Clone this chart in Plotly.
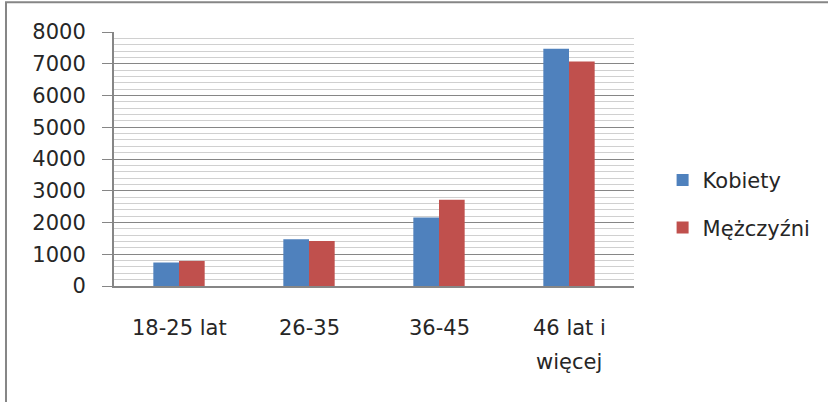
import plotly.graph_objects as go

# Age groups and counts per gender
categories = ["18-25 lat", "26-35", "36-45", "46 lat i<br>więcej"]
kobiety = [740, 1470, 2160, 7470]
mezczyzni = [790, 1420, 2720, 7070]
series_names = ["Kobiety", "Mężczyźni"]
y_ticks = [0, 1000, 2000, 3000, 4000, 5000, 6000, 7000, 8000]

FONT = "DejaVu Sans"
TEXT = "#262626"
AXIS_GRAY = "#868686"

fig = go.Figure()
fig.add_trace(go.Bar(x=categories, y=kobiety, name=series_names[0],
                     marker=dict(color="#4F81BD", line=dict(width=0)),
                     legendgroup="k"))
fig.add_trace(go.Bar(x=categories, y=mezczyzni, name=series_names[1],
                     marker=dict(color="#C0504D", line=dict(width=0)),
                     legendgroup="m"))

# Category labels written below the axis, one line per annotation
for cat in categories:
    for i, line in enumerate(cat.split("<br>")):
        fig.add_annotation(x=cat, xref="x", y=-0.167 - i * 0.134, yref="paper",
                           text=line, showarrow=False, xanchor="center",
                           yanchor="middle",
                           font=dict(family=FONT, size=21, color=TEXT))

# Outer chart frame
fig.add_shape(type="rect", xref="paper", yref="paper",
              x0=-0.2077, x1=1.40, y0=-0.50, y1=1.117,
              line=dict(color=AXIS_GRAY, width=2), layer="below")

fig.update_layout(
    width=828, height=402,
    margin=dict(l=114, r=192, t=32, b=116),
    paper_bgcolor="white", plot_bgcolor="white",
    barmode="group", bargap=0.605, bargroupgap=0,
    font=dict(family=FONT, size=21, color=TEXT),
    showlegend=True,
    legend=dict(x=1.055, y=0.323, xanchor="left", yanchor="middle",
                traceorder="grouped", tracegroupgap=17,
                font=dict(family=FONT, size=21, color=TEXT),
                bgcolor="rgba(0,0,0,0)"),
    xaxis=dict(showticklabels=False, ticks="", showgrid=False,
               showline=True, linecolor=AXIS_GRAY, linewidth=2,
               range=[-0.5, 3.5], fixedrange=True),
    yaxis=dict(range=[0, 8000], tickvals=y_ticks,
               ticks="outside", ticklen=10, tickcolor=AXIS_GRAY, tickwidth=1,
               showline=True, linecolor=AXIS_GRAY, linewidth=2,
               showgrid=True, gridcolor=AXIS_GRAY, gridwidth=1,
               minor=dict(dtick=200, showgrid=True, gridcolor="#D0D0D0",
                          gridwidth=1, ticks=""),
               ticklabelstandoff=12, zeroline=False,
               tickfont=dict(family=FONT, size=21, color=TEXT)),
)

fig.write_html("out.html")
